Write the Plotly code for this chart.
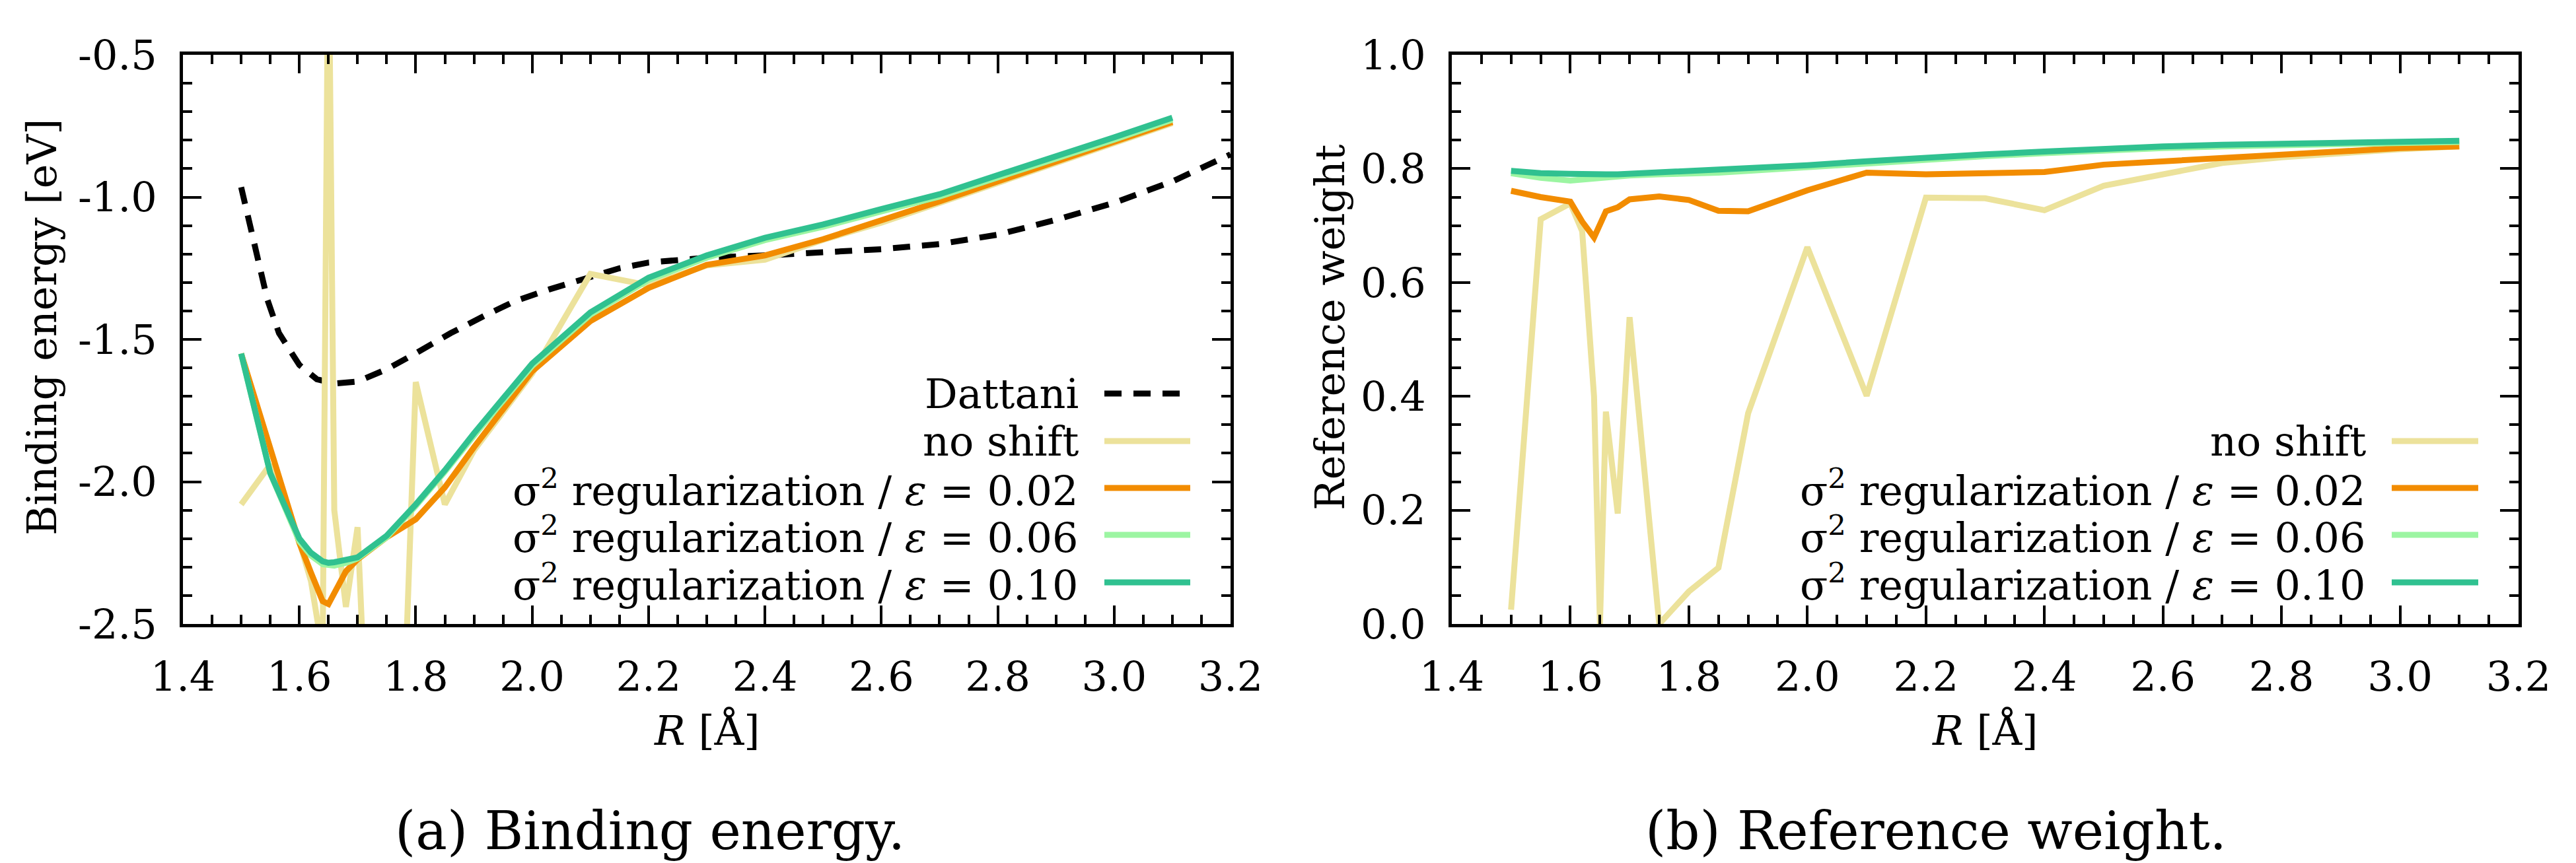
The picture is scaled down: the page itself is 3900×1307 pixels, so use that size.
import plotly.graph_objects as go

# ---------------- data ----------------
R = [1.5, 1.55, 1.6, 1.62, 1.64, 1.65, 1.66, 1.68, 1.7, 1.75, 1.8, 1.85, 1.9,
     2.0, 2.1, 2.2, 2.3, 2.4, 2.5, 2.6, 2.7, 2.8, 2.9, 3.0, 3.1]

# (a) binding energy [eV]
E_noshift = [-2.08, -1.94, -2.21, -2.35, -2.60, 0.0, -2.10, -2.44, -2.16, -4.5,
             -1.65, -2.08, -1.89, -1.62, -1.27, -1.31, -1.24, -1.22, -1.15, -1.09,
             -1.02, -0.95, -0.88, -0.81, -0.74]
E_eps002 = [-1.55, -1.89, -2.215, -2.32, -2.42, -2.43, -2.39, -2.315, -2.273, -2.195,
            -2.132, -2.02, -1.879, -1.612, -1.436, -1.319, -1.238, -1.205, -1.148,
            -1.083, -1.015, -0.945, -0.876, -0.806, -0.736]
E_eps006 = [-1.55, -1.97, -2.21, -2.26, -2.29, -2.295, -2.295, -2.285, -2.27, -2.195,
            -2.085, -1.965, -1.838, -1.593, -1.413, -1.291, -1.213, -1.151, -1.104,
            -1.05, -0.998, -0.931, -0.866, -0.798, -0.728]
E_eps010 = [-1.55, -1.97, -2.20, -2.25, -2.28, -2.285, -2.283, -2.275, -2.266, -2.19,
            -2.08, -1.96, -1.83, -1.585, -1.405, -1.283, -1.205, -1.143, -1.096,
            -1.042, -0.99, -0.923, -0.858, -0.79, -0.721]

R_dattani = [1.5, 1.515, 1.53, 1.545, 1.565, 1.6, 1.63, 1.66, 1.7, 1.75, 1.8, 1.86,
             1.92, 1.97, 2.03, 2.09, 2.15, 2.2, 2.3, 2.4, 2.5, 2.6, 2.7, 2.8, 2.9,
             3.0, 3.1, 3.2]
E_dattani = [-0.965, -1.09, -1.22, -1.36, -1.478, -1.59, -1.64, -1.655, -1.648, -1.605,
             -1.549, -1.478, -1.415, -1.366, -1.324, -1.286, -1.25, -1.23, -1.213,
             -1.205, -1.195, -1.183, -1.165, -1.132, -1.08, -1.02, -0.945, -0.85]

# (b) reference weight
W_noshift = [0.025, 0.711, 0.739, 0.69, 0.40, 0.0, 0.373, 0.194, 0.539, 0.0, 0.057,
             0.099, 0.37, 0.662, 0.401, 0.749, 0.748, 0.727, 0.77, 0.79, 0.81, 0.82,
             0.828, 0.834, 0.839]
W_eps002 = [0.761, 0.75, 0.742, 0.707, 0.679, 0.70, 0.725, 0.732, 0.746, 0.751, 0.745,
            0.726, 0.725, 0.762, 0.793, 0.79, 0.791, 0.794, 0.807, 0.813, 0.818, 0.825,
            0.831, 0.836, 0.839]
W_eps006 = [0.792, 0.784, 0.779, 0.781, 0.784, 0.785, 0.786, 0.787, 0.788, 0.79, 0.791,
            0.793, 0.796, 0.803, 0.81, 0.816, 0.822, 0.827, 0.832, 0.836, 0.839, 0.841,
            0.843, 0.845, 0.847]
W_eps010 = [0.796, 0.792, 0.791, 0.790, 0.790, 0.790, 0.790, 0.790, 0.791, 0.792, 0.794,
            0.796, 0.799, 0.806, 0.813, 0.82, 0.825, 0.83, 0.835, 0.839, 0.842, 0.844,
            0.846, 0.847, 0.849]

x_ticks = [1.4, 1.6, 1.8, 2.0, 2.2, 2.4, 2.6, 2.8, 3.0, 3.2]
x_ticktext = ["1.4", "1.6", "1.8", "2.0", "2.2", "2.4", "2.6", "2.8", "3.0", "3.2"]
yE_ticks = [-2.5, -2.0, -1.5, -1.0, -0.5]
yE_ticktext = ["-2.5", "-2.0", "-1.5", "-1.0", "-0.5"]
yW_ticks = [0.0, 0.2, 0.4, 0.6, 0.8, 1.0]
yW_ticktext = ["0.0", "0.2", "0.4", "0.6", "0.8", "1.0"]

names = ["Dattani", "no shift",
         "σ<sup>2</sup> regularization / <i>ε</i> = 0.02",
         "σ<sup>2</sup> regularization / <i>ε</i> = 0.06",
         "σ<sup>2</sup> regularization / <i>ε</i> = 0.10"]

# ---------------- styles ----------------
FONT = "DejaVu Serif"
C_DATT = "black"
C_NOSHIFT = "#ece29b"
C_002 = "#f28c00"
C_006 = "#9cf5a2"
C_010 = "#30c190"
LW = 9
DASH = "26px,18px"
W, H = 3900, 1307

def px(x):
    return x / W

def py(y):
    return 1 - y / H

fig = go.Figure()

# panel (a)
fig.add_trace(go.Scatter(x=R_dattani, y=E_dattani, mode="lines", name=names[0],
                         line=dict(color=C_DATT, width=9, dash=DASH),
                         xaxis="x", yaxis="y", showlegend=False))
for yy, col, nm in ((E_noshift, C_NOSHIFT, names[1]), (E_eps002, C_002, names[2]),
                    (E_eps006, C_006, names[3]), (E_eps010, C_010, names[4])):
    fig.add_trace(go.Scatter(x=R, y=yy, mode="lines", name=nm,
                             line=dict(color=col, width=LW), xaxis="x", yaxis="y",
                             showlegend=False))
# panel (b)
for yy, col, nm in ((W_noshift, C_NOSHIFT, names[1]), (W_eps002, C_002, names[2]),
                    (W_eps006, C_006, names[3]), (W_eps010, C_010, names[4])):
    fig.add_trace(go.Scatter(x=R, y=yy, mode="lines", name=nm,
                             line=dict(color=col, width=LW), xaxis="x2", yaxis="y2",
                             showlegend=False))

tickfont = dict(family=FONT, size=62, color="black")

def axis_common(domain, rng, tickvals, ticktext, minor_dtick, minor_tick0, anchor, standoff):
    return dict(domain=domain, range=rng, anchor=anchor, automargin=False,
                tickmode="array", tickvals=tickvals, ticktext=ticktext,
                showline=True, linecolor="black", linewidth=5, mirror="allticks",
                ticks="inside", ticklen=28, tickwidth=4, tickcolor="black",
                showgrid=False, zeroline=False, tickfont=tickfont,
                ticklabelstandoff=standoff,
                minor=dict(ticks="inside", ticklen=14, tickwidth=4, tickcolor="black",
                           tickmode="linear", dtick=minor_dtick, tick0=minor_tick0,
                           showgrid=False))

xd1 = [px(269), px(1855)]
xd2 = [px(2190), px(3805)]
yd = [py(937), py(75)]

fig.update_layout(
    template="none",
    width=W, height=H, autosize=False,
    margin=dict(l=0, r=0, t=0, b=0, pad=0),
    paper_bgcolor="white", plot_bgcolor="white",
    font=dict(family=FONT, size=60, color="black"),
    xaxis=axis_common(xd1, [1.4, 3.2], x_ticks, x_ticktext, 0.05, 1.4, "y", 22),
    yaxis=axis_common(yd, [-2.5, -0.5], yE_ticks, yE_ticktext, 0.1, -2.5, "x", 22),
    xaxis2=axis_common(xd2, [1.4, 3.2], x_ticks, x_ticktext, 0.05, 1.4, "y2", 22),
    yaxis2=axis_common(yd, [0, 1], yW_ticks, yW_ticktext, 0.05, 0.0, "x2", 22),
)

ann = []
# axis titles
ann.append(dict(text="Binding energy [eV]", x=px(56), y=py(488), xref="paper", yref="paper",
                textangle=-90, showarrow=False, xanchor="center", yanchor="middle",
                font=dict(family=FONT, size=62)))
ann.append(dict(text="Reference weight", x=px(2006), y=py(488), xref="paper", yref="paper",
                textangle=-90, showarrow=False, xanchor="center", yanchor="middle",
                font=dict(family=FONT, size=62)))
for cx in (1062, 2997):
    ann.append(dict(text="<i>R</i> [Å]", x=px(cx), y=py(1098), xref="paper", yref="paper",
                    showarrow=False, xanchor="center", yanchor="middle",
                    font=dict(family=FONT, size=62)))
# captions
ann.append(dict(text="(a) Binding energy.", x=px(976), y=py(1250), xref="paper", yref="paper",
                showarrow=False, xanchor="center", yanchor="middle",
                font=dict(family=FONT, size=80)))
ann.append(dict(text="(b) Reference weight.", x=px(2923), y=py(1250), xref="paper", yref="paper",
                showarrow=False, xanchor="center", yanchor="middle",
                font=dict(family=FONT, size=80)))

# manual gnuplot-style keys (text right-aligned, sample on right)
shapes = []
rows_a = [(names[0], C_DATT, "dash", 588), (names[1], C_NOSHIFT, "solid", 660),
          (names[2], C_002, "solid", 731), (names[3], C_006, "solid", 802),
          (names[4], C_010, "solid", 874)]
rows_b = rows_a[1:]
for rows, text_right, s0, s1 in ((rows_a, 1627, 1664, 1794), (rows_b, 3576, 3613, 3744)):
    for name, col, dsh, yy in rows:
        ann.append(dict(text=name, x=px(text_right), y=py(yy), xref="paper", yref="paper",
                        showarrow=False, xanchor="right", yanchor="middle",
                        font=dict(family=FONT, size=62)))
        shapes.append(dict(type="line", xref="paper", yref="paper",
                           x0=px(s0), x1=px(s1), y0=py(yy), y1=py(yy),
                           line=dict(color=col, width=9 if dsh == "dash" else LW,
                                     dash=DASH if dsh == "dash" else "solid")))

fig.update_layout(annotations=ann, shapes=shapes)
fig.write_html("out.html")
